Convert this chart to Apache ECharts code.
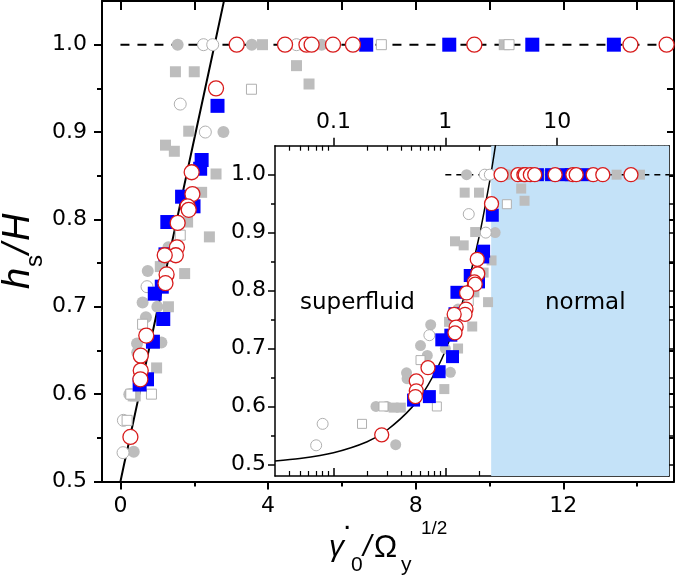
<!DOCTYPE html>
<html><head><meta charset="utf-8">
<script src="https://cdn.jsdelivr.net/npm/echarts@6/dist/echarts.min.js"></script>
<style>html,body{margin:0;padding:0;background:#fff}#c{width:677px;height:579px}</style>
</head><body><div id="c"></div>
<script>
// ---------------- data (x = shear rate / Omega_y^1/2, y = h_s/H) ----------------
const grayCircleX = [1.55, 3.56, 5.45, 2.79, 0.74, 0.60, 0.69, 1.00, 1.11, 0.455, 0.54, 0.45, 0.24, 0.30, 0.36, 1.30];
const grayCircleY = [1.00, 1.00, 1.00, 0.900, 0.741, 0.705, 0.688, 0.700, 0.659, 0.648, 0.641, 0.658, 0.600, 0.600, 0.534, 0.768];

const graySquareX = [1.49, 2.00, 4.77, 5.11, 1.85, 1.22, 1.46, 2.59, 2.20, 2.41, 1.82, 1.08, 1.74, 1.30, 0.98, 0.345, 0.40, 3.85, 10.4, 34, 55];
const graySquareY = [0.969, 0.969, 0.976, 0.955, 0.901, 0.885, 0.878, 0.852, 0.831, 0.780, 0.797, 0.746, 0.738, 0.700, 0.630, 0.598, 0.598, 1.00, 1.00, 1.00, 1.00];

const grayOpenCircleX = [2.25, 2.50, 4.77, 1.62, 2.30, 0.72, 0.08, 0.07];
const grayOpenCircleY = [1.00, 1.00, 1.00, 0.932, 0.900, 0.723, 0.570, 0.533];

const grayOpenSquareX = [3.55, 7.07, 10.53, 1.62, 0.60, 0.84, 0.18, 0.28];
const grayOpenSquareY = [0.949, 1.00, 1.00, 0.782, 0.680, 0.600, 0.570, 0.600];

const blueSquareX = [6.66, 8.91, 11.16, 13.37, 18, 2.63, 2.20, 2.16, 1.67, 1.98, 1.27, 1.22, 1.12, 0.93, 1.16, 0.88, 0.72, 0.52];
const blueSquareY = [1.00, 1.00, 1.00, 1.00, 1.00, 0.930, 0.868, 0.858, 0.826, 0.815, 0.797, 0.760, 0.723, 0.715, 0.686, 0.660, 0.617, 0.611];

const redCircleX = [3.15, 4.46, 5.04, 5.18, 5.76, 6.30, 9.59, 13.82, 14.8, 21, 25.6, 45.7, 2.59, 1.93, 1.95, 1.82, 1.85, 1.55, 1.53, 1.50, 1.20, 1.25, 1.22, 0.70, 0.55, 0.55, 0.54, 0.27];
const redCircleY = [1.00, 1.00, 1.00, 1.00, 1.00, 1.00, 1.00, 1.00, 1.00, 1.00, 1.00, 1.00, 0.950, 0.854, 0.829, 0.815, 0.811, 0.796, 0.768, 0.759, 0.759, 0.737, 0.727, 0.667, 0.644, 0.627, 0.617, 0.551];

// black guide curve
const curveX = [0, 0.03, 0.05, 0.1, 0.2, 0.3, 0.5, 0.7, 1.0, 1.5, 2.0, 2.5, 2.81];
const curveY = [0.500, 0.506, 0.510, 0.520, 0.539, 0.559, 0.598, 0.637, 0.696, 0.794, 0.892, 0.990, 1.051];

// dashed plateau lines
const mainDashX = [0, 15];
const insetDashX = [1, 100];
const dashY = [1.0, 1.0];

// "normal" region in the inset
const normalStartX = 2.57;
const normalEndX = 100;

// tick values
const mainXTicks = [0, 4, 8, 12];
const mainXMinor = [2, 6, 10, 14];
const mainXTop = [0, 2, 4, 6, 8, 10, 12, 14];
const mainYTicks = [0.5, 0.6, 0.7, 0.8, 0.9, 1.0];
const mainYMinor = [0.55, 0.65, 0.75, 0.85, 0.95];
const insetXMajor = [0.1, 1, 10];
const insetXMinor = [0.04,0.05,0.06,0.07,0.08,0.09,0.2,0.3,0.4,0.5,0.6,0.7,0.8,0.9,2,3,4,5,6,7,8,9,20,30,40,50,60,70,80,90];
const insetYTicks = [0.5, 0.6, 0.7, 0.8, 0.9, 1.0];
const insetYMinor = [0.55, 0.65, 0.75, 0.85, 0.95];

// ---------------- chart ----------------
const FONT = 'Liberation Sans, Arial, sans-serif';
const LFONT = 'DejaVu Sans, Liberation Sans, sans-serif';
const GRAY = '#bdbdbd';
const BLUE = '#0000ff';
const RED = '#d81c1c';
const LOG = v => Math.log10(v);

function pts(xs, ys, keep) {
  const out = [];
  xs.forEach((x, i) => { if (!keep || keep(x)) out.push([x, ys[i]]); });
  return out;
}

const chart = echarts.init(document.getElementById('c'), null, {renderer: 'canvas'});

const line = (c, w) => ({show: true, onZero: false, lineStyle: {color: c || '#000', width: w || 2}});
const noLine = {show: false, onZero: false};
const noLabel = {show: false};
const noSplit = {show: false};

const insetXMin = 0.03, insetXMax = 100;

const xAxes = [
  {gridIndex: 0, type: 'value', min: -0.5, max: 15, position: 'bottom',
   axisLine: line('#000', 2), splitLine: noSplit,
   axisTick: {show: true, inside: false, length: 8, customValues: mainXTicks, lineStyle: {width: 2, color: '#000'}},
   axisLabel: {show: true, customValues: mainXTicks, fontSize: 22, fontFamily: LFONT, color: '#000', margin: 14}},
  {gridIndex: 0, type: 'value', min: -0.5, max: 15, position: 'bottom',
   axisLine: noLine, splitLine: noSplit, axisLabel: noLabel,
   axisTick: {show: true, inside: false, length: 5, customValues: mainXMinor, lineStyle: {width: 2, color: '#000'}}},
  {gridIndex: 0, type: 'value', min: -0.5, max: 15, position: 'top',
   axisLine: line('#000', 2), splitLine: noSplit, axisLabel: noLabel,
   axisTick: {show: true, inside: true, length: 9, customValues: mainXTop, lineStyle: {width: 2, color: '#000'}}},
  {gridIndex: 1, type: 'log', logBase: 10, min: insetXMin, max: insetXMax, position: 'top',
   axisLine: line('#000', 1.5), splitLine: noSplit, minorTick: {show: false}, minorSplitLine: {show: false},
   axisTick: {show: true, inside: false, length: 8, lineStyle: {width: 1.5, color: '#000'}},
   axisLabel: {show: true, showMinLabel: false, showMaxLabel: false, fontSize: 22, fontFamily: LFONT, color: '#000', margin: 12}},
  {gridIndex: 1, type: 'value', min: LOG(insetXMin), max: LOG(insetXMax), position: 'top',
   axisLine: noLine, splitLine: noSplit, axisLabel: noLabel,
   axisTick: {show: true, inside: true, length: 5, customValues: insetXMinor.map(LOG), lineStyle: {width: 1.2, color: '#000'}}},
  {gridIndex: 1, type: 'value', min: LOG(insetXMin), max: LOG(insetXMax), position: 'bottom',
   axisLine: line('#000', 1.5), splitLine: noSplit, axisLabel: noLabel,
   axisTick: {show: true, inside: true, length: 8, customValues: insetXMajor.map(LOG), lineStyle: {width: 1.5, color: '#000'}}},
  {gridIndex: 1, type: 'value', min: LOG(insetXMin), max: LOG(insetXMax), position: 'bottom',
   axisLine: noLine, splitLine: noSplit, axisLabel: noLabel,
   axisTick: {show: true, inside: true, length: 5, customValues: insetXMinor.map(LOG), lineStyle: {width: 1.2, color: '#000'}}}
];

const yAxes = [
  {gridIndex: 0, type: 'value', min: 0.5, max: 1.05, position: 'left',
   axisLine: line('#000', 2), splitLine: noSplit,
   axisTick: {show: true, inside: false, length: 8, customValues: mainYTicks, lineStyle: {width: 2, color: '#000'}},
   axisLabel: {show: true, customValues: mainYTicks, fontSize: 22, fontFamily: LFONT, color: '#000', margin: 15,
               formatter: v => Number(v).toFixed(1)}},
  {gridIndex: 0, type: 'value', min: 0.5, max: 1.05, position: 'left',
   axisLine: noLine, splitLine: noSplit, axisLabel: noLabel,
   axisTick: {show: true, inside: false, length: 5, customValues: mainYMinor, lineStyle: {width: 2, color: '#000'}}},
  {gridIndex: 0, type: 'value', min: 0.5, max: 1.05, position: 'right',
   axisLine: line('#000', 2), splitLine: noSplit, axisLabel: noLabel,
   axisTick: {show: true, inside: true, length: 7, customValues: mainYTicks.concat(mainYMinor), lineStyle: {width: 2, color: '#000'}}},
  {gridIndex: 1, type: 'value', min: 0.48, max: 1.05, position: 'left',
   axisLine: line('#000', 1.5), splitLine: noSplit,
   axisTick: {show: true, inside: false, length: 7, customValues: insetYTicks, lineStyle: {width: 1.5, color: '#000'}},
   axisLabel: {show: true, customValues: insetYTicks, fontSize: 22, fontFamily: LFONT, color: '#000', margin: 9,
               formatter: v => Number(v).toFixed(1)}},
  {gridIndex: 1, type: 'value', min: 0.48, max: 1.05, position: 'left',
   axisLine: noLine, splitLine: noSplit, axisLabel: noLabel,
   axisTick: {show: true, inside: false, length: 4, customValues: insetYMinor, lineStyle: {width: 1.5, color: '#000'}}},
  {gridIndex: 1, type: 'value', min: 0.48, max: 1.05, position: 'right',
   axisLine: line('#000', 1.5), splitLine: noSplit, axisLabel: noLabel,
   axisTick: {show: true, inside: false, length: 6, customValues: insetYTicks.concat(insetYMinor), lineStyle: {width: 1.5, color: '#000'}}}
];

const markerDefs = [
  {name: 'gray circles', xs: grayCircleX, ys: grayCircleY, symbol: 'circle', size: [12, 11],
   itemStyle: {color: GRAY, borderWidth: 0}},
  {name: 'gray squares', xs: graySquareX, ys: graySquareY, symbol: 'rect', size: [11, 10],
   itemStyle: {color: GRAY, borderWidth: 0}},
  {name: 'gray open circles', xs: grayOpenCircleX, ys: grayOpenCircleY, symbol: 'circle', size: [12, 11],
   itemStyle: {color: '#fff', borderColor: '#b0b0b0', borderWidth: 1}},
  {name: 'gray open squares', xs: grayOpenSquareX, ys: grayOpenSquareY, symbol: 'rect', size: [10, 9],
   itemStyle: {color: '#fff', borderColor: '#b0b0b0', borderWidth: 1}},
  {name: 'curve'},
  {name: 'blue squares', xs: blueSquareX, ys: blueSquareY, symbol: 'rect', size: [14, 13],
   itemStyle: {color: BLUE, borderWidth: 0}},
  {name: 'red circles', xs: redCircleX, ys: redCircleY, symbol: 'circle', size: [15, 14],
   itemStyle: {color: '#fff', borderColor: RED, borderWidth: 1.3}}
];

const series = [];
series.push({type: 'line', name: 'plateau', xAxisIndex: 0, yAxisIndex: 0, data: pts(mainDashX, dashY),
  showSymbol: false, symbol: 'none', lineStyle: {color: '#000', width: 2, type: [9, 8]}, animation: false, silent: true, z: 2});
series.push({type: 'line', name: 'plateau inset', xAxisIndex: 3, yAxisIndex: 3, data: pts(insetDashX, dashY),
  showSymbol: false, symbol: 'none', lineStyle: {color: '#000', width: 1.5, type: [6, 5]}, animation: false, silent: true, z: 2,
  markArea: {silent: true, z: 1, itemStyle: {color: '#c4e2f8', opacity: 1, borderWidth: 0},
    data: [[{xAxis: normalStartX, yAxis: 0.48}, {xAxis: normalEndX, yAxis: 1.05}]]}});

for (const g of [0, 1]) {
  const xi = g === 0 ? 0 : 3, yi = g === 0 ? 0 : 3;
  markerDefs.forEach(d => {
    if (d.name === 'curve') {
      series.push({type: 'line', name: 'curve', xAxisIndex: xi, yAxisIndex: yi,
        data: pts(curveX, curveY, g === 1 ? (x => x > 0) : null), showSymbol: false, symbol: 'none', smooth: g === 1 ? 0.3 : false,
        lineStyle: {color: '#000', width: g === 0 ? 2 : 1.5}, animation: false, silent: true, z: 3});
      return;
    }
    series.push({type: 'scatter', name: d.name, xAxisIndex: xi, yAxisIndex: yi,
      data: pts(d.xs, d.ys, x => x > 0), symbol: d.symbol, symbolSize: d.size[g],
      itemStyle: Object.assign({opacity: 1}, d.itemStyle), clip: true, animation: false, silent: true, z: 3});
  });
}

const T = (text, x, y, size, italic, extra, fam) => Object.assign({type: 'text', x: x, y: y, silent: true,
  style: {text: text, fill: '#000', font: (italic ? 'italic ' : '') + size + 'px ' + (fam || FONT), verticalAlign: 'middle', align: 'left'}}, extra || {});

// y axis title h_s/H (rotated)
const yTitle = {type: 'group', x: 31, y: 289, rotation: Math.PI / 2, silent: true, children: [
  T('h', 0, -13, 38, true),
  T('s', 22, 4, 24, false),
  T('/', 35, -13, 38, true),
  T('H', 48, -13, 38, true)
]};
// x axis title  gamma-dot_0 / Omega_y ^ 1/2
const xTitle = {type: 'group', x: 0, y: 0, silent: true, children: [
  T('\u03B3', 329, 548, 30, true),
  T('.', 343, 521, 30, false),
  T('0', 351, 565, 21, false),
  T('/', 363, 548, 30, true),
  T('\u03A9', 374, 548, 31, false),
  T('y', 401, 565, 21, false),
  T('1/2', 421, 529, 19, false)
]};

const option = {
  backgroundColor: '#fff',
  animation: false,
  grid: [
    {left: 102, right: 3, top: 1, height: 480.5, show: false, containLabel: false},
    {left: 275, right: 8, top: 145.7, height: 330.3, show: true, backgroundColor: '#fff', borderWidth: 0, containLabel: false}
  ],
  xAxis: xAxes,
  yAxis: yAxes,
  series: series,
  graphic: [
    yTitle, xTitle,
    T('superfluid', 300, 303, 23, false, {z: 100}, LFONT),
    T('normal', 545, 303, 23, false, {z: 100}, LFONT)
  ]
};
chart.setOption(option);
</script></body></html>
